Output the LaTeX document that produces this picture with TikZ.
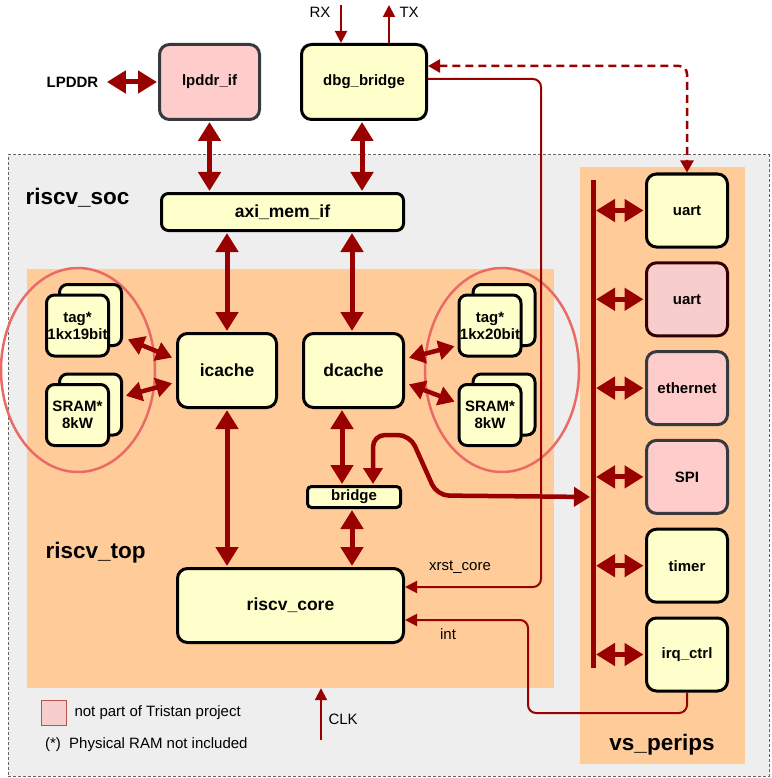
\documentclass[tikz,border=0pt]{standalone}
\usepackage{fontspec}
\setmainfont{Liberation Sans}
\usepackage{tikz}
\usetikzlibrary{arrows.meta,shapes.geometric,positioning}
\usepackage{xcolor}
\definecolor{dred}{HTML}{990000}
\definecolor{socgray}{HTML}{EEEEEE}
\definecolor{peach}{HTML}{FFCC99}
\definecolor{boxyellow}{HTML}{FFFFCC}
\definecolor{boxpink}{HTML}{FFCCCC}
\definecolor{pinkedge}{HTML}{36393D}
\definecolor{uartpink}{HTML}{F8CECC}
\definecolor{uartedge}{HTML}{330000}
\definecolor{ringred}{HTML}{EA6B66}
\definecolor{legedge}{HTML}{B85450}

\begin{document}
\begin{tikzpicture}[x=1pt,y=-1pt,
    main block/.style={rectangle,draw=black,line width=3pt,rounded corners=10pt,fill=boxyellow,
      inner sep=0pt,align=center,font=\bfseries\fontsize{17.5}{20}\selectfont},
    small block/.style={main block,font=\bfseries\fontsize{15}{17}\selectfont},
    ext block/.style={small block,fill=boxpink,draw=pinkedge},
    mem block/.style={small block,rounded corners=8pt,minimum width=62pt,minimum height=61pt},
    per block/.style={small block,minimum width=81pt,minimum height=73pt},
    title/.style={anchor=west,font=\bfseries\fontsize{22.5}{26}\selectfont},
    plain text/.style={font=\fontsize{15}{17}\selectfont},
    ring/.style={ellipse,draw=ringred,line width=2.5pt,minimum width=154pt,minimum height=204pt},
    bigarrow/.style={draw=dred,line width=5pt,shorten <=1pt,shorten >=1pt,
      {Triangle[length=19pt,width=22pt]}-{Triangle[length=19pt,width=22pt]}},
    cachearrow/.style={bigarrow,line width=4.5pt,
      {Triangle[length=16pt,width=19pt]}-{Triangle[length=16pt,width=19pt]}},
    sig/.style={draw=dred,line width=2pt,-{Triangle[length=12pt,width=12pt]}},
    dsig/.style={draw=dred,line width=2.5pt,dash pattern=on 8pt off 5pt,
      {Triangle[length=12pt,width=13pt]}-{Triangle[length=12pt,width=13pt]}}]

  \fill[white] (0,0) rectangle (771,778);
  \useasboundingbox (0,0) rectangle (771,778);

  % Containers
  \node[draw=black!60,dash pattern=on 3pt off 2pt,line width=1pt,fill=socgray,inner sep=0pt,
        minimum width=761pt,minimum height=621pt] (soc) at (388.5,465.5) {};
  \node[fill=peach,inner sep=0pt,minimum width=527pt,minimum height=419pt] (rtop) at (290.5,478.5) {};
  \node[fill=peach,inner sep=0pt,minimum width=165pt,minimum height=597pt] (perips) at (662.5,465.5) {};

  \node[title] (soclbl) at (22,198) {riscv\_soc};
  \node[title] (toplbl) at (42,553) {riscv\_top};
  \node[title,anchor=center] (perlbl) at (662,745) {vs\_perips};

  \node[ring] (ringL) at (78,370) {};
  \node[ring] (ringR) at (502,370) {};

  % Nodes
  \node[ext block,minimum width=100pt,minimum height=75pt] (lpddr) at (209.5,82) {lpddr\_if};
  \node[small block,minimum width=125pt,minimum height=75pt] (dbg) at (364,82) {dbg\_bridge};
  \node[main block,rounded corners=7pt,minimum width=242pt,minimum height=37pt] (axi) at (282.5,212) {axi\_mem\_if};
  \node[main block,minimum width=99pt,minimum height=74pt] (icache) at (227,370.5) {icache};
  \node[main block,minimum width=100pt,minimum height=74pt] (dcache) at (353.5,370.5) {dcache};
  \node[small block,rounded corners=4pt,minimum width=93pt,minimum height=21pt] (bridge) at (354,497) {bridge};
  \node[main block,minimum width=226pt,minimum height=74pt] (core) at (290.5,605.5) {riscv\_core};

  \node[mem block] (tagLb) at (90.5,315) {};
  \node[mem block] (tagLf) at (77.5,325.5) {tag*\\1kx19bit};
  \node[mem block] (sramLb) at (90.5,404.5) {};
  \node[mem block] (sramLf) at (77.5,415) {SRAM*\\8kW};
  \node[mem block] (tagRb) at (504,315) {};
  \node[mem block] (tagRf) at (490,325.5) {tag*\\1kx20bit};
  \node[mem block] (sramRb) at (504,404.5) {};
  \node[mem block] (sramRf) at (490,415) {SRAM*\\8kW};

  \node[per block] (uartA) at (687,210.5) {uart};
  \node[per block,fill=uartpink,draw=uartedge,below=12.8pt of uartA] (uartB) {uart};
  \node[per block,fill=boxpink,draw=pinkedge,below=12.8pt of uartB] (eth) {ethernet};
  \node[per block,fill=boxpink,draw=pinkedge,below=12.8pt of eth] (spi) {SPI};
  \node[per block,below=12.8pt of spi] (timer) {timer};
  \node[per block,below=12.8pt of timer] (irq) {irq\_ctrl};

  \node[plain text,font=\bfseries\fontsize{15}{17}\selectfont] (lpddrlbl) at (72.5,82) {LPDDR};
  \node[plain text,anchor=east] (rxlbl) at (334,12) {RX};
  \node[plain text,anchor=west] (txlbl) at (396,12) {TX};
  \node[plain text] (xrstlbl) at (460,567) {xrst\_core};
  \node[plain text] (intlbl) at (448,634) {int};
  \node[plain text,anchor=west] (clklbl) at (325,719) {CLK};

  \node[draw=legedge,fill=uartpink,line width=1pt,inner sep=0pt,minimum size=25pt] (legbox) at (54,713) {};
  \node[plain text,right=4pt of legbox] (legtxt) {not part of Tristan project};
  \node[plain text,anchor=west] (legnote) at (41.5,745) {(*)~~Physical RAM not included};

  \coordinate (busTop) at (593,180);
  \coordinate (busBot) at (593,668);
  \coordinate (rx) at (341,5);
  \coordinate (tx) at (389,5);
  \coordinate (clk) at (321,740);
  \coordinate (xrstBend) at (541,587);
  \coordinate (intBend) at (528,713);

  % Edges
  \draw[bigarrow] ([xshift=4pt]lpddrlbl.east) -- (lpddr.west);
  \draw[bigarrow] (lpddr.south) -- (lpddr.south |- axi.north);
  \draw[bigarrow] ([xshift=-2pt]dbg.south) -- ([xshift=-2pt]dbg.south |- axi.north);
  \draw[bigarrow] (icache.north |- axi.south) -- (icache.north);
  \draw[bigarrow] ([xshift=-1.5pt]dcache.north |- axi.south) -- ([xshift=-1.5pt]dcache.north);
  \draw[bigarrow] (icache.south) -- (icache.south |- core.north);
  \draw[bigarrow] ([xshift=-11.5pt]dcache.south) -- ([xshift=-11.5pt]dcache.south |- bridge.north);
  \draw[bigarrow] ([xshift=-2pt]bridge.south) -- ([xshift=-2pt]bridge.south |- core.north);

  \draw[cachearrow] ([xshift=4pt,yshift=-24pt]tagLb.east) -- ([xshift=-3pt,yshift=12.5pt]icache.west);
  \draw[cachearrow] ([xshift=2pt,yshift=8.5pt]sramLb.east) -- ([xshift=-3pt,yshift=-12.5pt]icache.west);
  \draw[cachearrow] ([xshift=3pt,yshift=12.5pt]dcache.east) -- ([xshift=-2pt,yshift=-20.5pt]tagRf.west);
  \draw[cachearrow] ([xshift=3pt,yshift=-13.5pt]dcache.east) -- ([xshift=-2pt,yshift=13pt]sramRf.west);

  \draw[dred,line width=5pt] (busTop) -- (busBot);
  \draw[cachearrow,rounded corners=12pt,shorten >=3pt] ([xshift=19pt]bridge.north) -- ++(0,-50) -- ++(37,0)
        -- ++(27,60.5) -- (busTop |- bridge.east);
  \foreach \p in {uartA,uartB,eth,spi,timer,irq}
    \draw[bigarrow,shorten <=3pt,shorten >=1.5pt] (busTop |- \p.west) -- (\p.west);

  \draw[sig] (rx) -- (rx |- dbg.north);
  \draw[sig] (tx |- dbg.north) -- (tx);
  \draw[sig] (clk) -- (clk |- rtop.south);
  \draw[sig,rounded corners=8pt] ([yshift=3pt]dbg.east) -| (xrstBend) -- (xrstBend -| core.east);
  \draw[sig,rounded corners=8pt] (irq.south) |- (intBend) |- ([yshift=-14.5pt]core.east);
  \draw[dsig,rounded corners=8pt] ([yshift=16pt]dbg.east) -| (uartA.north);
\end{tikzpicture}
\end{document}
